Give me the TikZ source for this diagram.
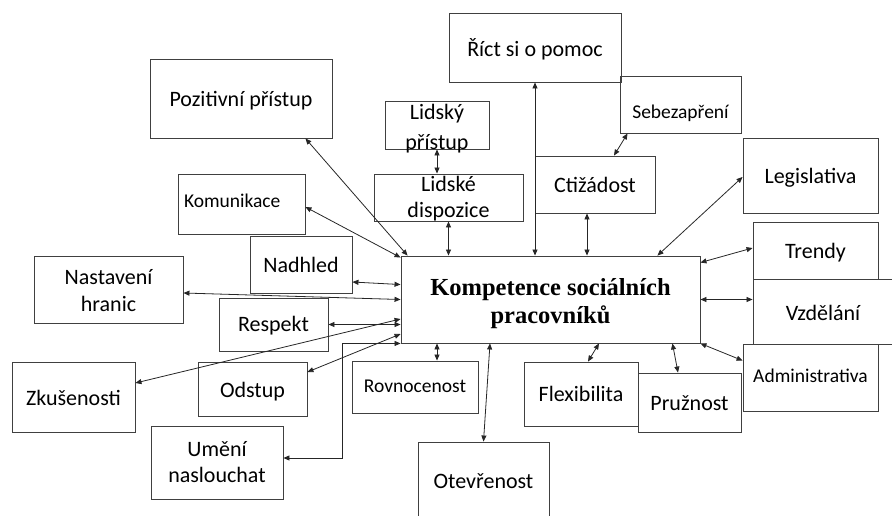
\documentclass[tikz,border=0pt]{standalone}
\usepackage{fontspec}
\setmainfont{Carlito}
\newfontfamily\serifbold{Liberation Serif}
\usetikzlibrary{arrows.meta}
% single line text: baseline #1 below the box centre
\newcommand\bxtext[2]{\smash{\raisebox{-#1}{#2}}}
% several lines: first baseline #1 above the box centre
\newcommand\bxlines[2]{\smash{\raisebox{#1}{\begin{tabular}[t]{@{}c@{}}#2\end{tabular}}}}
\tikzset{
  box/.style={draw=black!75, line width=0.9pt, inner sep=0pt, align=center,
    font=\fontsize{22}{27}\selectfont},
  sbox/.style={box, font=\fontsize{19.5}{24}\selectfont},
  link/.style={draw=black!85, line width=0.8pt, >={Triangle[length=6pt,width=5pt]}, <->},
}
\begin{document}
\begin{tikzpicture}[x=1pt, y=1pt]
\useasboundingbox (0,0) rectangle (892,515);
\clip (0,0) rectangle (892,515);
% boxes
\node[box, minimum width=299pt, minimum height=87pt,
  font=\serifbold\bfseries\fontsize{24.5}{29}\selectfont] (main) at (550.5,215.5)
  {\bxlines{4.5pt}{Kompetence sociálních\\pracovníků}};
\node[box, minimum width=182pt, minimum height=79pt] (poz) at (241,416.5) {\bxtext{8.2pt}{Pozitivní přístup}};
\node[sbox, minimum width=127pt, minimum height=60pt, text width=115pt, align=left] (kom) at (241.5,311) {\bxtext{3.3pt}{Komunikace}};
\node[box, minimum width=104pt, minimum height=48pt] (lp) at (437,390)
  {\bxlines{5.7pt}{Lidský\\[3pt]přístup}};
\node[box, minimum width=149pt, minimum height=47pt] (ld) at (448.5,317.5) {\bxlines{5.8pt}{Lidské\\[-1pt]dispozice}};
\node[box, minimum width=102pt, minimum height=57pt] (nad) at (301,250.5) {\bxtext{7.8pt}{Nadhled}};
\node[box, minimum width=149pt, minimum height=67pt] (nas) at (108.5,225.5) {\bxlines{5.5pt}{Nastavení\\hranic}};
\node[box, minimum width=172pt, minimum height=69pt] (rict) at (535,467.5) {\bxtext{9.2pt}{Říct si o pomoc}};
\node[sbox, minimum width=121pt, minimum height=57pt] (seb) at (680.5,410.5) {\bxtext{14pt}{Sebezapření}};
\node[box, minimum width=120pt, minimum height=57pt] (ctiz) at (595,330.5) {\bxtext{8.2pt}{Ctižádost}};
\node[box, minimum width=135pt, minimum height=75pt] (leg) at (810.5,339.5) {\bxtext{8.5pt}{Legislativa}};
\node[box, minimum width=125pt, minimum height=57pt] (tre) at (815.5,264.5) {\bxtext{7.8pt}{Trendy}};
\node[box, minimum width=140pt, minimum height=65pt] (vzd) at (823,203.5) {\bxtext{8.5pt}{Vzdělání}};
\node[sbox, minimum width=135pt, minimum height=67pt] (adm) at (810.5,137.5) {\bxtext{5.2pt}{Administrativa}};
\node[box, minimum width=114pt, minimum height=64pt] (flex) at (581,121) {\bxtext{7pt}{Flexibilita}};
\node[box, minimum width=103pt, minimum height=59pt] (pru) at (689.5,112.5) {\bxtext{7.5pt}{Pružnost}};
\node[box, minimum width=131pt, minimum height=76pt] (ote) at (483.5,35) {\bxtext{8.3pt}{Otevřenost}};
\node[sbox, minimum width=126pt, minimum height=52pt] (rov) at (415,128) {\bxtext{5.7pt}{Rovnocenost}};
\node[box, minimum width=109pt, minimum height=53pt] (res) at (273.5,190.5) {\bxtext{7.2pt}{Respekt}};
\node[box, minimum width=123pt, minimum height=70pt] (zku) at (73.5,118) {\bxtext{8pt}{Zkušenosti}};
\node[box, minimum width=109pt, minimum height=54pt] (ods) at (252.5,126) {\bxtext{8.3pt}{Odstup}};
\node[box, minimum width=132pt, minimum height=73pt] (ume) at (217,52.5) {\bxlines{5.8pt}{Umění\\[-1pt]naslouchat}};
% helper coordinates
\coordinate (ctizb) at ([xshift=-8pt]ctiz.south);
\coordinate (rovt) at ([xshift=22pt]rov.north);
% connectors
\draw[link] ([xshift=-27pt]poz.south east) -- ([xshift=7pt]main.north west);
\draw[link] ([yshift=-3pt]kom.east) -- ([yshift=-2pt]main.north west);
\draw[link] (lp.south) -- (lp.south |- ld.north);
\draw[link] (ld.south) -- (ld.south |- main.north);
\draw[link] (rict.south) -- (rict.south |- main.north);
\draw[link] (ctizb) -- (ctizb |- main.north);
\draw[link] ([xshift=8pt]seb.south west) -- ([xshift=19pt]ctiz.north);
\draw[link] ([yshift=-1.5pt]leg.west) -- ([xshift=-43pt]main.north east);
\draw[link] ([yshift=2.5pt]tre.west) -- ([yshift=-7pt]main.north east);
\draw[link] (main.east) -- (main.east -| vzd.west);
\draw[link] (main.south east) -- ([yshift=-17pt]adm.north west);
\draw[link] ([xshift=-28pt]main.south east) -- ([xshift=-11.5pt]pru.north);
\draw[link] ([xshift=48.5pt]main.south) -- ([xshift=7pt]flex.north);
\draw[link] ([xshift=-60.5pt]main.south) -- (ote.north);
\draw[link] (rovt) -- (rovt |- main.south);
\draw[link] ([yshift=-17.5pt]nad.east) -- ([yshift=-29pt]main.north west);
\draw[link] ([yshift=-3.5pt]nas.east) -- (main.west);
\draw[link] (res.east) -- (res.east -| main.west);
\draw[link] ([yshift=14pt]zku.east) -- ([yshift=-19.5pt]main.west);
\draw[link] ([yshift=17pt]ods.east) -- ([yshift=-34.5pt]main.west);
\draw[link] (main.south west) -- ++(-58pt,0) |- ([yshift=4.5pt]ume.east);
\end{tikzpicture}
\end{document}
